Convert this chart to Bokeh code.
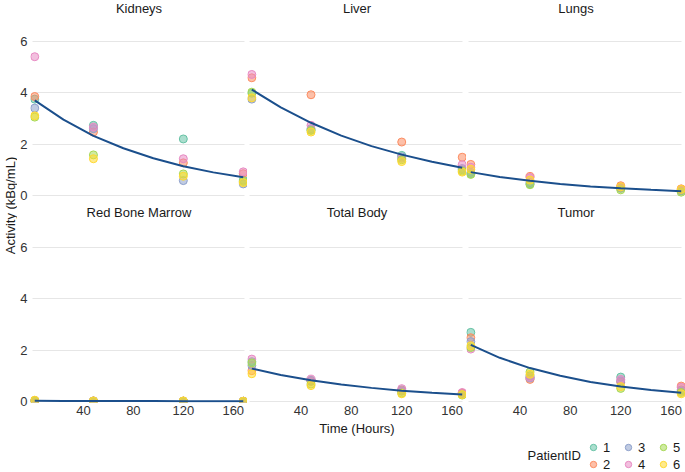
import numpy as np
from bokeh.plotting import figure
from bokeh.layouts import row, column
from bokeh.models import Range1d, FixedTicker, LinearAxis, Grid, Legend, LegendItem
from bokeh.embed import file_html
from bokeh.resources import INLINE
from bokeh.core.properties import value

# ---------------- data ----------------
times = [1, 48, 120, 168]
patient_ids = ["1", "2", "3", "4", "5", "6"]
patient_colors = ["#66c2a5", "#fc8d62", "#8da0cb", "#e78ac3", "#a6d854", "#ffd92f"]
organs = ["Kidneys", "Liver", "Lungs", "Red Bone Marrow", "Total Body", "Tumor"]

# activity (kBq/mL); one row per patient 1..6, one column per time point
kidneys = [
    [3.75, 2.73, 2.20, 0.60],
    [3.85, 2.47, 1.27, 0.85],
    [3.40, 2.60, 0.58, 0.45],
    [5.40, 2.66, 1.43, 0.92],
    [3.05, 1.58, 0.84, 0.55],
    [3.10, 1.43, 0.75, 0.50],
]
liver = [
    [3.98, 2.55, 1.56, 1.00],
    [4.58, 3.92, 2.08, 1.49],
    [3.75, 2.60, 1.50, 1.05],
    [4.71, 2.73, 1.45, 1.20],
    [4.02, 2.53, 1.39, 0.95],
    [3.80, 2.47, 1.32, 0.91],
]
lungs = [
    [0.85, 0.45, 0.30, 0.20],
    [1.21, 0.74, 0.38, 0.26],
    [0.90, 0.50, 0.28, 0.18],
    [1.10, 0.70, 0.32, 0.22],
    [0.82, 0.42, 0.22, 0.13],
    [1.02, 0.60, 0.34, 0.24],
]
red_bone_marrow = [
    [0.03, 0.02, 0.01, 0.01],
    [0.04, 0.02, 0.02, 0.01],
    [0.03, 0.01, 0.01, 0.01],
    [0.03, 0.02, 0.01, 0.01],
    [0.02, 0.01, 0.01, 0.00],
    [0.05, 0.02, 0.02, 0.01],
]
total_body = [
    [1.55, 0.82, 0.45, 0.30],
    [1.20, 0.78, 0.42, 0.33],
    [1.40, 0.80, 0.40, 0.28],
    [1.65, 0.87, 0.50, 0.35],
    [1.50, 0.68, 0.33, 0.25],
    [1.08, 0.62, 0.30, 0.27],
]
tumor = [
    [2.69, 1.00, 0.95, 0.45],
    [2.48, 0.86, 0.75, 0.60],
    [2.33, 0.92, 0.80, 0.40],
    [2.04, 0.95, 0.86, 0.55],
    [2.10, 1.15, 0.51, 0.35],
    [2.17, 1.06, 0.58, 0.30],
]

# fitted curve
fit_times = [1, 24, 48, 72, 96, 120, 144, 168]
kidneys_fit = [3.70, 2.95, 2.32, 1.84, 1.45, 1.14, 0.90, 0.71]
liver_fit = [4.12, 3.43, 2.83, 2.33, 1.92, 1.59, 1.31, 1.08]
lungs_fit = [0.91, 0.72, 0.57, 0.45, 0.35, 0.28, 0.22, 0.17]
red_bone_marrow_fit = [0.025, 0.022, 0.020, 0.018, 0.016, 0.014, 0.013, 0.012]
total_body_fit = [1.28, 1.03, 0.83, 0.66, 0.53, 0.42, 0.34, 0.27]
tumor_fit = [2.20, 1.70, 1.30, 1.00, 0.76, 0.58, 0.45, 0.34]

x_ticks = [40, 80, 120, 160]
y_ticks = [0, 2, 4, 6]

# ---------------- styling / layout (pixels) ----------------
FONT = "Liberation Sans"
FW = 219                 # frame width of each panel
YLAB_W = 17              # strip holding the y-axis title
LEFT_B = 11              # room for the y tick labels
PX_PER_UNIT = 25.7       # vertical scale
TOP_FRAME = 203          # top-row frame height (title lives inside it)
BOT_FRAME = 199          # bottom-row frame height
ZERO_BELOW = (8, 1)      # px of frame below the zero line (top row, bottom row)
TITLE_FROM_ZERO = (187.5, 189.0)  # px from the zero line up to the panel title centre
BOT_B = 36               # x tick labels + axis title
LEG_H = 34               # legend strip
GRID = "#e6e6e6"
LINE = "#1b4f8c"
TICK_COLOR = "#333333"
TITLE_COLOR = "#1a1a1a"
X0, X1 = -2.4, 171.4
HAS_CROSS = "cross_bounds" in Grid.properties()


def make_panel(name, vals, fit, col, bottom, xlabel=None):
    k = 1 if bottom else 0
    bl = LEFT_B if col == 0 else 0
    fh = BOT_FRAME if bottom else TOP_FRAME
    bb = BOT_B if bottom else 0
    y0 = -ZERO_BELOW[k] / PX_PER_UNIT
    y1 = (fh - ZERO_BELOW[k]) / PX_PER_UNIT
    p = figure(width=bl + FW, height=fh + bb,
               x_range=Range1d(X0, X1), y_range=Range1d(y0, y1),
               x_axis_location=None, y_axis_location=None,
               output_backend="svg", toolbar_location=None,
               min_border_left=bl, min_border_right=0,
               min_border_top=0, min_border_bottom=bb)
    p.grid.visible = False
    p.outline_line_color = None
    g = Grid(dimension=1, ticker=FixedTicker(ticks=y_ticks),
             grid_line_color=GRID, grid_line_width=1.2)
    if HAS_CROSS:
        g.cross_bounds = (-0.8, 168.6)
    p.add_layout(g)
    if col == 0:
        ax = LinearAxis(ticker=FixedTicker(ticks=y_ticks), axis_line_color=None,
                        major_tick_line_color=None, minor_tick_line_color=None,
                        major_tick_out=0, major_tick_in=0, major_label_standoff=3,
                        major_label_text_font=FONT, major_label_text_font_size="13px",
                        major_label_text_color=TICK_COLOR)
        p.add_layout(ax, "left")
    if bottom:
        ax = LinearAxis(ticker=FixedTicker(ticks=x_ticks), axis_line_color=None,
                        major_tick_line_color=None, minor_tick_line_color=None,
                        major_tick_out=0, major_tick_in=0, major_label_standoff=3,
                        major_label_text_font=FONT, major_label_text_font_size="13px",
                        major_label_text_color=TICK_COLOR)
        if xlabel:
            ax.axis_label = xlabel
            ax.axis_label_standoff = 3
            ax.axis_label_text_font = FONT
            ax.axis_label_text_font_size = "13px"
            ax.axis_label_text_font_style = "normal"
            ax.axis_label_text_color = TITLE_COLOR
        p.add_layout(ax, "below")
    for i, c in enumerate(patient_colors):
        p.scatter(times, vals[i], size=8, marker="circle", fill_color=c, fill_alpha=0.55,
                  line_color=c, line_alpha=1.0, line_width=1)
    p.line(fit_times, fit, line_color=LINE, line_width=2)
    # strip title (inside the top of the frame)
    ty = TITLE_FROM_ZERO[k] / PX_PER_UNIT
    p.text(x=[(X0 + X1) / 2], y=[ty], text=[name], text_align="center",
           text_baseline="middle", text_font=value(FONT), text_font_size="13px",
           text_color=TITLE_COLOR)
    return p


p1 = make_panel(organs[0], kidneys, kidneys_fit, 0, False)
p2 = make_panel(organs[1], liver, liver_fit, 1, False)
p3 = make_panel(organs[2], lungs, lungs_fit, 2, False)
p4 = make_panel(organs[3], red_bone_marrow, red_bone_marrow_fit, 0, True)
p5 = make_panel(organs[4], total_body, total_body_fit, 1, True, xlabel="Time (Hours)")
p6 = make_panel(organs[5], tumor, tumor_fit, 2, True)

# y-axis title spanning both rows
GRID_H = TOP_FRAME + BOT_FRAME + BOT_B
yl = figure(width=YLAB_W, height=GRID_H, x_range=Range1d(0, YLAB_W), y_range=Range1d(0, GRID_H),
            x_axis_location=None, y_axis_location=None, output_backend="svg",
            toolbar_location=None, min_border=0)
yl.grid.visible = False
yl.outline_line_color = None
yl.text(x=[9.5], y=[GRID_H - 205], text=["Activity (kBq/mL)"], angle=np.pi / 2,
        text_align="center", text_baseline="middle", text_font=value(FONT),
        text_font_size="13px", text_color=TITLE_COLOR)

# legend strip: hidden renderers only carry each patient's marker style
W_ALL = YLAB_W + LEFT_B + 3 * FW
lg = figure(width=W_ALL, height=LEG_H, x_range=Range1d(0, W_ALL), y_range=Range1d(0, LEG_H),
            x_axis_location=None, y_axis_location=None, output_backend="svg",
            toolbar_location=None, min_border=0)
lg.grid.visible = False
lg.outline_line_color = None
items = []
for pid, c, vals in zip(patient_ids, patient_colors, kidneys):
    r = lg.scatter(times, vals, size=8, marker="circle", fill_color=c, fill_alpha=0.55,
                   line_color=c, line_alpha=1.0, line_width=1, visible=False)
    items.append(LegendItem(label=pid, renderers=[r]))
legend = Legend(
    items=items, orientation="vertical", nrows=2,
    location=(585, 0), glyph_width=16, glyph_height=16, label_height=16,
    label_standoff=2, label_width=16, spacing=1, padding=0, margin=0,
    border_line_color=None, background_fill_alpha=0,
    label_text_font=FONT, label_text_font_size="13px", label_text_color=TITLE_COLOR,
)
lg.add_layout(legend)
lg.text(x=[527], y=[17], text=["PatientID"], text_align="left", text_baseline="middle",
        text_font=value(FONT), text_font_size="13px", text_color=TITLE_COLOR)

layout = column(row(yl, column(row(p1, p2, p3), row(p4, p5, p6))), lg)

open("out.html", "w").write(file_html(layout, INLINE))
